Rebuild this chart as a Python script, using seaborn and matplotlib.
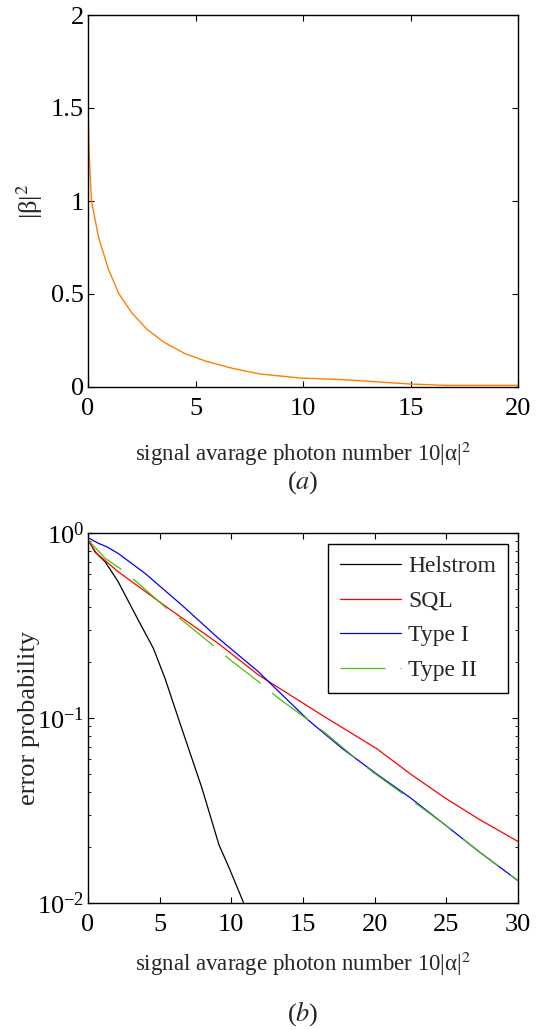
import numpy as np
import pandas as pd
import seaborn as sns
import matplotlib
matplotlib.use("Agg")
import matplotlib.pyplot as plt
from matplotlib.ticker import LogLocator, NullFormatter

# panel (a): |beta|^2 vs signal photon number
beta_x = [0, 0.06, 0.16, 0.5, 0.96, 1.44, 2.03, 2.74, 3.54, 4.5, 5.45, 6.73,
          8.0, 9.9, 11.8, 13.4, 15.0, 16.6, 20]
beta_y = [1.5, 1.24, 1.0, 0.80, 0.63, 0.50, 0.40, 0.31, 0.24, 0.18, 0.14, 0.10,
          0.07, 0.048, 0.04, 0.028, 0.016, 0.009, 0.009]

# panel (b): error probabilities
helstrom_x = [0, 0.49, 1.19, 2.1, 3.5, 4.56, 5.37, 6.42, 7.94, 9.14, 9.86, 10.86]
helstrom_y = [0.92, 0.79, 0.70, 0.546, 0.339, 0.238, 0.164, 0.0936, 0.042, 0.0206,
              0.0154, 0.01]

sql_x = [0, 0.6, 2.1, 5.6, 9.09, 11.88, 16.5, 20.14, 22.5, 24.9, 27.3, 30]
sql_y = [0.916, 0.776, 0.618, 0.392, 0.253, 0.171, 0.1016, 0.0683, 0.0498, 0.037,
         0.0283, 0.0215]

type1_x = [0, 0.72, 1.3, 2.1, 3.98, 6.54, 9.09, 11.88, 15.36, 17.75, 20.14, 22.5,
           24.9, 27.3, 30]
type1_y = [0.944, 0.88, 0.843, 0.776, 0.605, 0.408, 0.27, 0.178, 0.0975, 0.0683,
           0.0498, 0.037, 0.0265, 0.0189, 0.0132]

type2_x = [0, 1.19, 2.56, 4.44, 5.6, 6.54, 8.98, 9.79, 12.35, 13.17, 15.84, 16.6,
           19.0, 19.9, 22.5, 24.9, 27.3, 30]
type2_y = [0.92, 0.73, 0.618, 0.462, 0.384, 0.339, 0.238, 0.21, 0.1476, 0.130,
           0.0916, 0.0824, 0.0577, 0.0508, 0.0363, 0.0265, 0.0189, 0.0132]

top_xticks = [0, 5, 10, 15, 20]
top_yticks = [0, 0.5, 1, 1.5, 2]
top_ylabels = ["0", "0.5", "1", "1.5", "2"]
bot_xticks = [0, 5, 10, 15, 20, 25, 30]

sns.set_theme(style="ticks")
plt.rcParams["font.family"] = ["Liberation Serif", "DejaVu Serif"]
plt.rcParams["mathtext.fontset"] = "stix"
plt.rcParams["xtick.direction"] = "in"
plt.rcParams["ytick.direction"] = "in"

fig = plt.figure(figsize=(5.37, 10.30), dpi=100)
ax1 = fig.add_axes([88 / 537, 1 - 387 / 1030, 430 / 537, 372 / 1030])
ax2 = fig.add_axes([88 / 537, 1 - 903 / 1030, 430 / 537, 370 / 1030])

df_a = pd.DataFrame({"x": beta_x, "y": beta_y})
sns.lineplot(data=df_a, x="x", y="y", ax=ax1, color="#ff8000", linewidth=1.0)
ax1.set_xlim(0, 20)
ax1.set_ylim(0, 2)
ax1.set_xticks(top_xticks)
ax1.set_xticklabels([str(t) for t in top_xticks])
ax1.set_yticks(top_yticks)
ax1.set_yticklabels(top_ylabels)
ax1.set_xlabel("signal avarage photon number 10|α|$^2$", fontsize=16.5, labelpad=14)
ax1.set_ylabel("|β|$^2$", fontsize=19)
ax1.yaxis.set_label_coords(-0.1, 0.5)
ax1.text(0.5, -0.258, "($a$)", transform=ax1.transAxes, ha="center", va="center",
         fontsize=19)

series = [
    ("Helstrom", helstrom_x, helstrom_y, "black", "-"),
    ("SQL", sql_x, sql_y, "#ff0000", "-"),
    ("Type I", type1_x, type1_y, "#0000ff", "-"),
    ("Type II", type2_x, type2_y, "#4cc000", (0, (36, 12))),
]
for name, xs, ys, col, ls in series:
    d = pd.DataFrame({"x": xs, "y": ys})
    sns.lineplot(data=d, x="x", y="y", ax=ax2, color=col, linestyle=ls,
                 linewidth=0.9, label=name)
ax2.set_yscale("log")
ax2.set_xlim(0, 30)
ax2.set_ylim(0.01, 1)
ax2.set_xticks(bot_xticks)
ax2.set_xticklabels([str(t) for t in bot_xticks])
ax2.yaxis.set_minor_locator(LogLocator(base=10, subs=np.arange(2, 10)))
ax2.yaxis.set_minor_formatter(NullFormatter())
ax2.set_xlabel("signal avarage photon number 10|α|$^2$", fontsize=16.5, labelpad=10)
ax2.set_ylabel("error probability", fontsize=19)
ax2.yaxis.set_label_coords(-0.112, 0.5)
ax2.text(0.5, -0.3, "($b$)", transform=ax2.transAxes, ha="center", va="center",
         fontsize=19)

leg = ax2.legend(loc="upper right", bbox_to_anchor=(0.977, 0.970), fontsize=17,
                 frameon=True, fancybox=False, edgecolor="black", framealpha=1,
                 handlelength=2.6, handletextpad=0.3, labelspacing=0.55,
                 borderpad=0.5, borderaxespad=0)
leg.get_frame().set_linewidth(1.0)

for ax in (ax1, ax2):
    for s in ax.spines.values():
        s.set_visible(True)
        s.set_color("black")
        s.set_linewidth(1.0)
    ax.tick_params(which="both", top=True, right=True, direction="in",
                   labelsize=19, colors="black")
    ax.tick_params(axis="x", which="major", length=4, width=0.8, pad=8)
    ax.tick_params(axis="y", which="major", length=4, width=0.8, pad=3)
    ax.tick_params(which="minor", length=2.5, width=0.6)
    ax.grid(False)

fig.savefig("out.png", dpi=100)
